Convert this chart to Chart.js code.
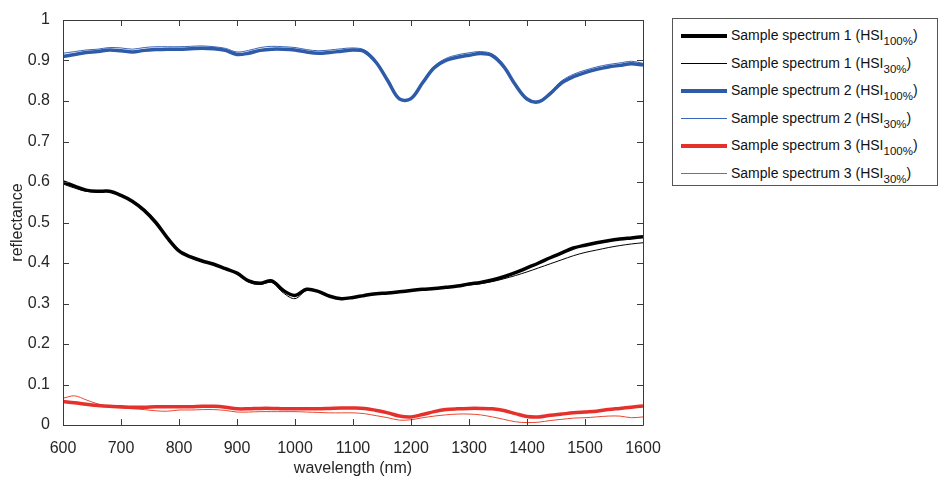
<!DOCTYPE html>
<html>
<head>
<meta charset="utf-8">
<script src="https://cdn.jsdelivr.net/npm/chart.js@4.4.1/dist/chart.umd.min.js"></script>
<style>
  body { margin: 0; background: #fff; font-family: "Liberation Sans", Arial, sans-serif; }
  #wrap { position: relative; width: 945px; height: 478px; }
  #legend { position: absolute; left: 672px; top: 18px; width: 266px; height: 168px;
            border: 1px solid #555; box-sizing: border-box; background: #fff; }
  .row { position: absolute; left: 0; height: 20px; font-size: 14px; color: #111; white-space: nowrap; }
  .row .ln { position: absolute; left: 8px; width: 46px; }
  .row .tx { position: absolute; left: 58px; top: 0; }
  .row sub { font-size: 11.5px; vertical-align: -5px; line-height: 0; }
</style>
</head>
<body>
<div id="wrap">
  <canvas id="chart" width="945" height="478"></canvas>
  <div id="legend"></div>
</div>
<script>
// wavelength grid (nm)
const wavelengths = [600,620,640,660,680,700,720,740,760,780,800,820,840,860,880,900,920,940,960,980,
  1000,1020,1040,1060,1080,1100,1120,1140,1160,1180,1200,1220,1240,1260,1280,1300,1320,1340,1360,1380,
  1400,1420,1440,1460,1480,1500,1520,1540,1560,1580,1600];

// sample spectrum 1
const spec1Full = [0.600,0.590,0.580,0.577,0.577,0.567,0.552,0.530,0.500,0.462,0.430,0.415,0.405,0.397,0.386,0.375,0.356,0.350,0.356,0.332,
  0.320,0.335,0.330,0.318,0.312,0.315,0.320,0.324,0.326,0.329,0.332,0.335,0.337,0.340,0.343,0.348,0.352,0.358,0.366,0.376,
  0.388,0.400,0.413,0.425,0.437,0.444,0.450,0.455,0.459,0.462,0.465];
const spec130 = [0.595,0.585,0.577,0.575,0.576,0.566,0.554,0.533,0.503,0.465,0.432,0.416,0.405,0.397,0.386,0.374,0.353,0.347,0.352,0.326,
  0.312,0.332,0.329,0.317,0.311,0.314,0.319,0.323,0.326,0.329,0.332,0.334,0.336,0.339,0.342,0.346,0.349,0.354,0.361,0.369,
  0.378,0.388,0.398,0.408,0.418,0.426,0.432,0.438,0.443,0.447,0.450];

// sample spectrum 2
const spec2Full = [0.910,0.915,0.920,0.922,0.926,0.924,0.921,0.925,0.927,0.928,0.928,0.929,0.930,0.929,0.925,0.915,0.918,0.925,0.928,0.928,
  0.926,0.921,0.918,0.920,0.923,0.926,0.922,0.895,0.850,0.805,0.806,0.845,0.882,0.900,0.908,0.913,0.917,0.912,0.885,0.840,
  0.805,0.798,0.818,0.845,0.860,0.870,0.878,0.884,0.888,0.892,0.889];
const spec230 = [0.918,0.922,0.926,0.928,0.932,0.931,0.928,0.932,0.934,0.934,0.934,0.935,0.936,0.934,0.930,0.921,0.925,0.932,0.935,0.934,
  0.932,0.927,0.924,0.926,0.929,0.931,0.926,0.898,0.852,0.806,0.807,0.848,0.886,0.905,0.914,0.919,0.922,0.916,0.888,0.842,
  0.807,0.800,0.822,0.850,0.866,0.876,0.884,0.890,0.894,0.898,0.893];

// sample spectrum 3
const spec3Full = [0.058,0.055,0.051,0.048,0.046,0.045,0.044,0.044,0.045,0.045,0.045,0.045,0.046,0.046,0.044,0.040,0.040,0.041,0.041,0.040,
  0.040,0.040,0.040,0.041,0.042,0.042,0.041,0.036,0.030,0.022,0.020,0.026,0.033,0.038,0.040,0.041,0.041,0.040,0.036,0.028,
  0.021,0.020,0.024,0.027,0.030,0.032,0.034,0.038,0.041,0.044,0.047];
const spec330 = [0.066,0.072,0.062,0.052,0.046,0.042,0.040,0.038,0.035,0.034,0.037,0.037,0.038,0.038,0.036,0.032,0.032,0.033,0.033,0.033,
  0.033,0.032,0.031,0.030,0.030,0.030,0.028,0.023,0.018,0.012,0.013,0.018,0.022,0.025,0.027,0.027,0.025,0.020,0.014,0.008,
  0.006,0.007,0.011,0.014,0.017,0.018,0.020,0.022,0.022,0.018,0.020];

const xTicks = [600,700,800,900,1000,1100,1200,1300,1400,1500,1600];

const seriesNames = ['Sample spectrum 1', 'Sample spectrum 1', 'Sample spectrum 2', 'Sample spectrum 2', 'Sample spectrum 3', 'Sample spectrum 3'];
const seriesSubs = ['100%', '30%', '100%', '30%', '100%', '30%'];
const seriesData = [spec1Full, spec130, spec2Full, spec230, spec3Full, spec330];
const seriesColors = ['#000000', '#000000', '#2d5ba8', '#3a66b8', '#e5312c', '#e8472f'];
const seriesWidths = [3.5, 1, 3.5, 1, 3.5, 1];

const datasets = seriesData.map((arr, i) => ({
    label: seriesNames[i] + ' (HSI' + seriesSubs[i] + ')',
    data: wavelengths.map((w, j) => ({ x: w, y: arr[j] })),
    borderColor: seriesColors[i],
    borderWidth: seriesWidths[i],
    pointRadius: 0,
    tension: 0.35,
    fill: false
}));

// box around plot with inward ticks (matlab style)
const frame = {
    id: 'frame',
    afterDraw(chart) {
        const { ctx, chartArea: a, scales: { x, y } } = chart;
        ctx.save();
        ctx.strokeStyle = '#3a3a3a';
        ctx.lineWidth = 1;
        ctx.beginPath();
        ctx.rect(Math.round(a.left) + 0.5, Math.round(a.top) + 0.5, Math.round(a.width), Math.round(a.height));
        xTicks.forEach(v => {
            const px = Math.round(x.getPixelForValue(v)) + 0.5;
            ctx.moveTo(px, a.bottom); ctx.lineTo(px, a.bottom - 6);
            ctx.moveTo(px, a.top); ctx.lineTo(px, a.top + 6);
        });
        y.ticks.forEach(t => {
            const py = Math.round(y.getPixelForValue(t.value)) + 0.5;
            ctx.moveTo(a.left, py); ctx.lineTo(a.left + 6, py);
            ctx.moveTo(a.right, py); ctx.lineTo(a.right - 6, py);
        });
        ctx.stroke();
        ctx.restore();
    }
};

new Chart(document.getElementById('chart'), {
    type: 'line',
    data: { datasets: datasets },
    options: {
        responsive: false,
        animation: false,
        layout: { padding: { left: 0, right: 302, top: 20, bottom: 0 } },
        plugins: { legend: { display: false }, tooltip: { enabled: false } },
        scales: {
            x: {
                type: 'linear',
                min: 600,
                max: 1600,
                afterBuildTicks: s => { s.ticks = xTicks.map(v => ({ value: v })); },
                afterFit: s => { s.height = 53; },
                grid: { display: false },
                border: { display: false },
                ticks: { color: '#262626', font: { family: 'Liberation Sans', size: 16 }, padding: 6, maxRotation: 0,
                         callback: v => String(v) },
                title: { display: true, text: 'wavelength (nm)', color: '#262626',
                         font: { family: 'Liberation Sans', size: 16 }, padding: { top: 3, bottom: 0 } }
            },
            y: {
                min: 0,
                max: 1,
                ticks: { stepSize: 0.1, color: '#262626', font: { family: 'Liberation Sans', size: 16 }, padding: 5,
                         callback: v => (v === 0 || v === 1) ? String(v) : v.toFixed(1) },
                afterFit: s => { s.width = 63; },
                grid: { display: false },
                border: { display: false },
                title: { display: true, text: 'reflectance', color: '#262626',
                         font: { family: 'Liberation Sans', size: 16 }, padding: { top: 8, bottom: 0 } }
            }
        }
    },
    plugins: [frame]
});

// legend with subscripts
const legend = document.getElementById('legend');
seriesNames.forEach((name, i) => {
    const row = document.createElement('div');
    row.className = 'row';
    row.style.top = (8 + i * 27.5) + 'px';
    row.innerHTML = `<span class="ln" style="top:${9 - seriesWidths[i] / 2}px;height:${seriesWidths[i]}px;background:${seriesColors[i]}"></span>` +
        `<span class="tx">${name} (HSI<sub>${seriesSubs[i]}</sub>)</span>`;
    legend.appendChild(row);
});
</script>
</body>
</html>
